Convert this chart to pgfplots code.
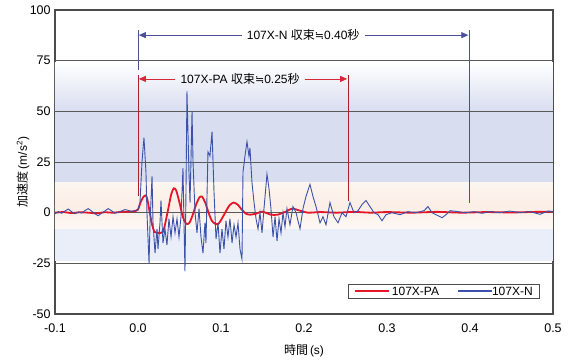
\documentclass[border=0pt]{standalone}
\usepackage{fontspec}
\setmainfont{Liberation Sans}
\newfontfamily\jp{Noto Sans CJK JP}
\newfontfamily\dvsans{DejaVu Sans}
\usepackage{pgfplots}
\pgfplotsset{compat=1.18}
\usetikzlibrary{arrows.meta}
\definecolor{cred}{RGB}{228,22,40}
\definecolor{cblue}{RGB}{60,82,170}
\definecolor{ared}{RGB}{215,40,55}
\definecolor{ablue}{RGB}{75,80,155}
\definecolor{bandblue}{RGB}{216,221,240}
\definecolor{bandpeach}{RGB}{251,238,230}
\definecolor{bandlight}{RGB}{234,238,248}
\pgfplotsset{/pgf/number format/assume math mode=true}
\newcommand{\approxs}{{\dvsans\fontsize{11}{12}\selectfont ≒}}
\begin{document}
\fontsize{12.5}{14}\selectfont
\begin{tikzpicture}
\useasboundingbox (-55pt,-46pt) rectangle (515pt,314pt);
\begin{axis}[
  scale only axis, width=498pt, height=304pt,
  at={(0pt,0pt)}, anchor=south west,
  xmin=-0.1, xmax=0.5, ymin=-50, ymax=100,
  xtick={-0.1,0,0.1,0.2,0.3,0.4,0.5},
  ytick={-50,-25,0,25,50,75,100},
  xticklabel={\pgfmathprintnumber[fixed,fixed zerofill,precision=1]{\tick}},
  yticklabel={\pgfmathprintnumber[fixed,precision=0]{\tick}},
  tick label style={font=\fontsize{12.5}{14}\selectfont},
  xticklabel style={yshift=-5pt},
  major tick length=0pt,
  axis line style={black!70, line width=1.4pt},
  xlabel={{\jp 時間}\,(s)},
  ylabel={{\jp 加速度}\,(m/s\textsuperscript{2})},
  label style={font=\fontsize{12}{14}\selectfont},
  xlabel style={yshift=-4pt},
  ylabel style={at={(ticklabel cs:0.467)}, yshift=-8pt},
]
% background bands
\shade[top color=white, bottom color=bandblue] (axis cs:-0.1,74) rectangle (axis cs:0.5,50);
\fill[bandblue] (axis cs:-0.1,50) rectangle (axis cs:0.5,15);
\shade[top color=bandpeach!60, bottom color=bandpeach] (axis cs:-0.1,15) rectangle (axis cs:0.5,3);
\shade[top color=bandpeach, bottom color=bandpeach!40] (axis cs:-0.1,3) rectangle (axis cs:0.5,-8);
\fill[bandlight] (axis cs:-0.1,-8) rectangle (axis cs:0.5,-24);
% grid lines
\foreach \yy in {-25,0,25,50,75} {
  \edef\tmp{\noexpand\draw[black!65, line width=0.9pt] (axis cs:-0.1,\yy) -- (axis cs:0.5,\yy);}\tmp
}

\addplot[cred, line width=1.8pt, smooth, tension=0.4] coordinates {
(-0.100,0.0) (-0.090,0.3) (-0.080,-0.2) (-0.070,0.2) (-0.060,0.0) (-0.050,-0.3)
(-0.040,0.2) (-0.030,0.0) (-0.020,0.4) (-0.010,0.5) (-0.003,0.8)
(0.000,1.5) (0.003,5.0) (0.006,7.5) (0.009,8.5) (0.011,7.0) (0.014,0.5)
(0.017,-6.0) (0.020,-9.5) (0.025,-10.0) (0.030,-9.5) (0.033,-5.0)
(0.037,3.0) (0.040,9.0) (0.043,12.0) (0.046,11.0) (0.050,5.0)
(0.054,-2.0) (0.058,-5.5) (0.062,-5.0) (0.066,-1.0) (0.070,4.0)
(0.074,7.5) (0.077,8.0) (0.081,5.0) (0.085,0.0) (0.089,-4.0)
(0.093,-5.5) (0.097,-5.5) (0.101,-3.0) (0.105,0.0) (0.110,3.5)
(0.115,5.0) (0.120,4.0) (0.125,1.5) (0.130,-0.5) (0.135,-1.0)
(0.142,-0.5) (0.150,0.5) (0.160,-1.0) (0.168,-1.0) (0.178,0.5)
(0.186,2.0) (0.195,1.0) (0.205,0.0) (0.220,0.3) (0.240,0.0)
(0.260,0.4) (0.280,0.0) (0.300,0.3) (0.330,0.0) (0.360,0.4)
(0.390,0.0) (0.420,0.3) (0.450,0.1) (0.480,0.4) (0.500,0.5)
};

\addplot[cblue, line width=0.9pt] coordinates {
(-0.100,-0.5) (-0.096,0.5) (-0.092,-0.3) (-0.088,0.8) (-0.084,1.8) (-0.080,0.5)
(-0.076,-0.5) (-0.072,0.3) (-0.068,-0.2) (-0.064,1.0) (-0.060,2.0) (-0.056,0.8)
(-0.052,-0.5) (-0.048,-1.5) (-0.044,-0.3) (-0.040,0.8) (-0.036,2.0) (-0.032,1.0)
(-0.028,-0.3) (-0.024,0.2) (-0.020,0.8) (-0.016,1.5) (-0.012,1.2) (-0.008,0.6)
(-0.004,1.0) (0.000,1.5)
(0.0024,5) (0.0048,25) (0.0072,37) (0.0096,20) (0.0108,0) (0.0133,-25)
(0.0145,-5) (0.0169,18) (0.0181,-5) (0.0205,-20) (0.0229,-8) (0.0241,-18)
(0.0265,-5) (0.0277,6) (0.0301,-15) (0.0325,-8) (0.0349,-16) (0.0373,-3)
(0.0398,-12) (0.0422,-2) (0.0446,-10) (0.0470,-3) (0.0494,-12) (0.0518,-2)
(0.0542,22) (0.0554,-5) (0.0566,-29) (0.0578,10) (0.0590,60) (0.0614,20)
(0.0627,5) (0.0651,50) (0.0663,25) (0.0687,0) (0.0711,-10) (0.0735,2)
(0.0759,-12) (0.0783,-20) (0.0807,-5) (0.0819,-15) (0.0843,30) (0.0867,28)
(0.0892,40) (0.0916,10) (0.0940,-13) (0.0964,-5) (0.0988,-20) (0.1012,-8)
(0.1036,-18) (0.1060,-4) (0.1084,-12) (0.1108,-3) (0.1133,-15) (0.1157,-6)
(0.1181,-12) (0.1205,-5) (0.1229,-18) (0.1253,-23) (0.1265,20) (0.1289,28)
(0.1313,35) (0.1337,28) (0.1349,32) (0.1373,15) (0.1398,5) (0.1422,-3)
(0.1446,-8) (0.1470,0) (0.1494,-10) (0.1518,2) (0.1554,19) (0.1578,12)
(0.1602,2) (0.1627,-12) (0.1651,-2) (0.1675,-14) (0.1699,-3) (0.1723,-10)
(0.1747,0) (0.1771,-7) (0.1795,2) (0.1831,-6) (0.1867,3) (0.1904,0)
(0.1952,-8) (0.1988,2) (0.2024,8) (0.2072,14) (0.2108,8) (0.2145,3)
(0.2193,-5) (0.2229,-2) (0.2265,-6) (0.2313,5) (0.2361,-2) (0.2410,-5)
(0.2458,0) (0.2506,-2) (0.2554,5) (0.2602,0) (0.2651,1) (0.2699,4)
(0.2747,6) (0.2795,3) (0.2843,0) (0.2892,-1) (0.2940,-4) (0.2988,-1)
(0.3060,0) (0.3157,-1) (0.3253,0.5) (0.3349,0) (0.3446,1) (0.3494,3)
(0.3542,0) (0.3614,-1.5) (0.3663,-2.5) (0.3711,-1) (0.3759,1) (0.3855,0.5)
(0.3952,0) (0.4048,0.5) (0.4145,-0.3) (0.4241,0.5) (0.4361,0) (0.4482,0.8)
(0.4602,0) (0.4723,0.5) (0.4843,-0.8) (0.4940,0.8) (0.5000,0.5)
};

% annotations
\draw[ared!80!black, line width=0.6pt] (axis cs:0,8) -- (axis cs:0,68);
\draw[ared!80!black, line width=0.6pt] (axis cs:0.253,6) -- (axis cs:0.253,68);
\draw[ablue, line width=0.6pt] (axis cs:0,70.5) -- (axis cs:0,90);
\draw[ablue, line width=0.6pt] (axis cs:0.399,5) -- (axis cs:0.399,90);
\node[inner sep=5pt, font=\fontsize{12}{14}\selectfont] (tr) at (axis cs:0.123,66) {107X-PA {\jp 収束}\approxs0.25{\jp 秒}};
\node[inner sep=5pt, font=\fontsize{12}{14}\selectfont] (tb) at (axis cs:0.199,87.6) {107X-N {\jp 収束}\approxs0.40{\jp 秒}};
\draw[ared, line width=0.8pt, -{Triangle[length=7pt,width=6pt]}] (tr.west) -- (axis cs:0.001,66);
\draw[ared, line width=0.8pt, -{Triangle[length=7pt,width=6pt]}] (tr.east) -- (axis cs:0.252,66);
\draw[ablue, line width=0.8pt, -{Triangle[length=7pt,width=6pt]}] (tb.west) -- (axis cs:0.001,87.6);
\draw[ablue, line width=0.8pt, -{Triangle[length=7pt,width=6pt]}] (tb.east) -- (axis cs:0.398,87.6);
% legend
\node[draw=black!70, line width=0.6pt, fill=white, anchor=south east, inner xsep=7pt, inner ysep=3pt,
  font=\fontsize{12}{14}\selectfont]
  at (axis description cs:0.974,0.05)
  {\textcolor{cred}{\rule[3.6pt]{34pt}{1.8pt}}\hspace{3pt}107X-PA\hspace{19pt}\textcolor{cblue}{\rule[3.6pt]{34pt}{1.6pt}}107X-N};
\end{axis}
\end{tikzpicture}
\end{document}
